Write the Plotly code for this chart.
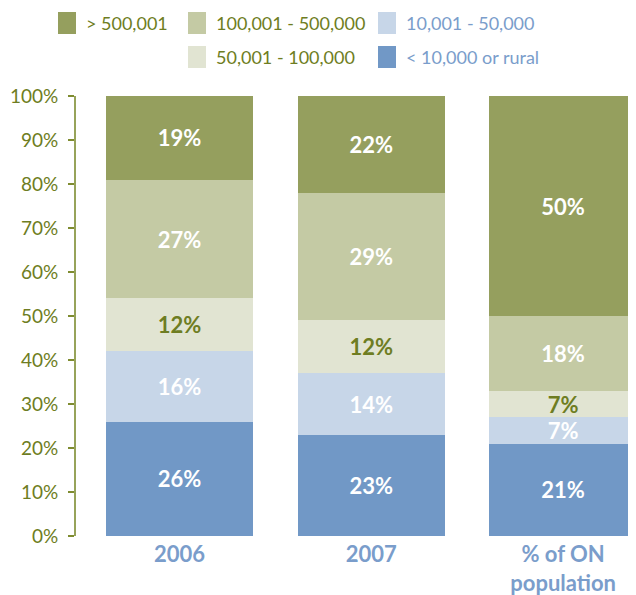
import plotly.graph_objects as go

categories = ["2006", "2007", "% of ON<br>population"]
series_names = ["< 10,000 or rural", "10,001 - 50,000", "50,001 - 100,000", "100,001 - 500,000", "> 500,001"]
values = {
    "< 10,000 or rural": [26, 23, 21],
    "10,001 - 50,000": [16, 14, 6],
    "50,001 - 100,000": [12, 12, 6],
    "100,001 - 500,000": [27, 29, 17],
    "> 500,001": [19, 22, 50],
}
labels = {
    "< 10,000 or rural": ["26%", "23%", "21%"],
    "10,001 - 50,000": ["16%", "14%", "7%"],
    "50,001 - 100,000": ["12%", "12%", "7%"],
    "100,001 - 500,000": ["27%", "29%", "18%"],
    "> 500,001": ["19%", "22%", "50%"],
}
tick_vals = [0, 10, 20, 30, 40, 50, 60, 70, 80, 90, 100]
tick_text = [f"{v}%" for v in tick_vals]

colors = {
    "< 10,000 or rural": "#7198C6",
    "10,001 - 50,000": "#C7D6E8",
    "50,001 - 100,000": "#E1E4D2",
    "100,001 - 500,000": "#C4CAA4",
    "> 500,001": "#959F5E",
}
olive = "#6E7D22"
blue_txt = "#7A9DCB"
label_colors = {
    "< 10,000 or rural": "white",
    "10,001 - 50,000": "white",
    "50,001 - 100,000": olive,
    "100,001 - 500,000": "white",
    "> 500,001": "white",
}
FONT = "Lato"

fig = go.Figure()
for name in series_names:
    fig.add_trace(go.Bar(
        x=categories, y=values[name], name=name,
        marker=dict(color=colors[name], line=dict(width=0)),
        text=labels[name], textposition="inside", insidetextanchor="middle",
        textangle=0,
        textfont=dict(family=FONT, size=22, color=label_colors[name], weight="bold"),
        constraintext="none",
        width=0.77, showlegend=False, hoverinfo="skip",
    ))

# the page adds an 8px body margin, so the figure is 8px smaller and shifted
fig.update_layout(
    barmode="stack",
    width=628, height=587,
    margin=dict(l=68, r=0, t=88, b=59),
    paper_bgcolor="white", plot_bgcolor="white",
    uniformtext=dict(mode=False),
    font=dict(family=FONT),
    xaxis=dict(
        range=[-0.54, 2.38], showline=False, showgrid=False, zeroline=False,
        ticks="", tickfont=dict(family=FONT, size=22, color=blue_txt, weight="bold"),
        ticklabelstandoff=3, automargin=False,
    ),
    yaxis=dict(
        range=[0, 100], tickvals=tick_vals, ticktext=tick_text,
        showline=True, linecolor="#97A35A", linewidth=2,
        ticks="outside", ticklen=6, tickcolor="#7F8C30", tickwidth=2,
        showgrid=False, zeroline=False,
        tickfont=dict(family=FONT, size=19, color=olive),
        ticklabelstandoff=6, automargin=False,
    ),
)

# custom legend laid out as in the reference (page pixel positions)
legend_items = [
    ("> 500,001", 58, 12, olive),
    ("100,001 - 500,000", 188, 12, olive),
    ("10,001 - 50,000", 378, 12, blue_txt),
    ("50,001 - 100,000", 188, 46, olive),
    ("< 10,000 or rural", 378, 46, blue_txt),
]
for name, px, py, tc in legend_items:
    fig.add_shape(type="rect", xref="paper", yref="paper",
                  x0=(px - 76) / 560, x1=(px + 18 - 76) / 560,
                  y0=(536 - (py + 22)) / 440, y1=(536 - py) / 440,
                  fillcolor=colors[name], line=dict(width=0))
    fig.add_annotation(xref="paper", yref="paper",
                       x=(px + 26 - 76) / 560, y=(536 - (py + 11)) / 440,
                       text=name, showarrow=False, xanchor="left", yanchor="middle",
                       font=dict(family=FONT, size=18, color=tc))

fig.write_html("out.html")
